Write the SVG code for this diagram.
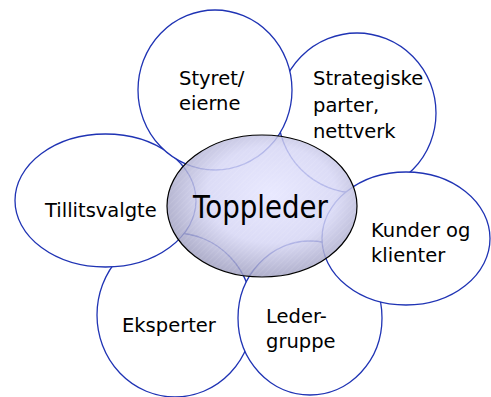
<svg xmlns="http://www.w3.org/2000/svg" width="491" height="397" viewBox="0 0 491 397">
<style>
.petal{fill:#ffffff;stroke:#1f33b4;stroke-width:1.3}
.lbl{font-family:"DejaVu Sans","Liberation Sans",sans-serif;font-size:19.5px;fill:#000}
.big{font-family:"DejaVu Sans","Liberation Sans",sans-serif;font-size:32px;fill:#000}
</style>
<defs>
<radialGradient id="cg" cx="0.55" cy="0.42" r="0.62">
<stop offset="0" stop-color="#e4e4ff"/>
<stop offset="0.55" stop-color="#d4d4f4"/>
<stop offset="1" stop-color="#9696b8"/>
</radialGradient>
<pattern id="hatch" width="4" height="4" patternUnits="userSpaceOnUse" patternTransform="rotate(45)">
<line x1="0" y1="0" x2="0" y2="4" stroke="#ffffff" stroke-width="1" stroke-opacity="0.18"/>
</pattern>
</defs>
<g id="eksperter">
<ellipse class="petal" cx="175" cy="315" rx="78" ry="82"/>
<text class="lbl" x="122" y="332">Eksperter</text>
</g>
<g id="ledergruppe">
<ellipse class="petal" cx="310" cy="318" rx="72" ry="77"/>
<text class="lbl" x="266" y="323">Leder-</text>
<text class="lbl" x="266" y="348">gruppe</text>
</g>
<g id="tillitsvalgte">
<ellipse class="petal" cx="105.5" cy="200.5" rx="90.5" ry="66.5"/>
<text class="lbl" x="45" y="217">Tillitsvalgte</text>
</g>
<g id="strategiske">
<ellipse class="petal" cx="357" cy="113" rx="79" ry="80"/>
<text class="lbl" x="313" y="85">Strategiske</text>
<text class="lbl" x="313" y="111.5">parter,</text>
<text class="lbl" x="313" y="138">nettverk</text>
</g>
<g id="kunder">
<ellipse class="petal" cx="406" cy="238.5" rx="84" ry="66.5"/>
<text class="lbl" x="371" y="237">Kunder og</text>
<text class="lbl" x="371" y="262">klienter</text>
</g>
<g id="styret">
<ellipse class="petal" cx="215" cy="90" rx="77" ry="80"/>
<text class="lbl" x="179" y="85">Styret/</text>
<text class="lbl" x="179" y="110">eierne</text>
</g>
<g id="toppleder">
<ellipse cx="262" cy="206" rx="95" ry="71" fill="url(#cg)" fill-opacity="0.82"/>
<ellipse cx="262" cy="206" rx="95" ry="71" fill="url(#hatch)"/>
<ellipse cx="262" cy="206" rx="95" ry="71" fill="none" stroke="#000" stroke-width="1.2"/>
<text class="big" x="193" y="217.5" textLength="135" lengthAdjust="spacingAndGlyphs">Toppleder</text>
</g>
</svg>
